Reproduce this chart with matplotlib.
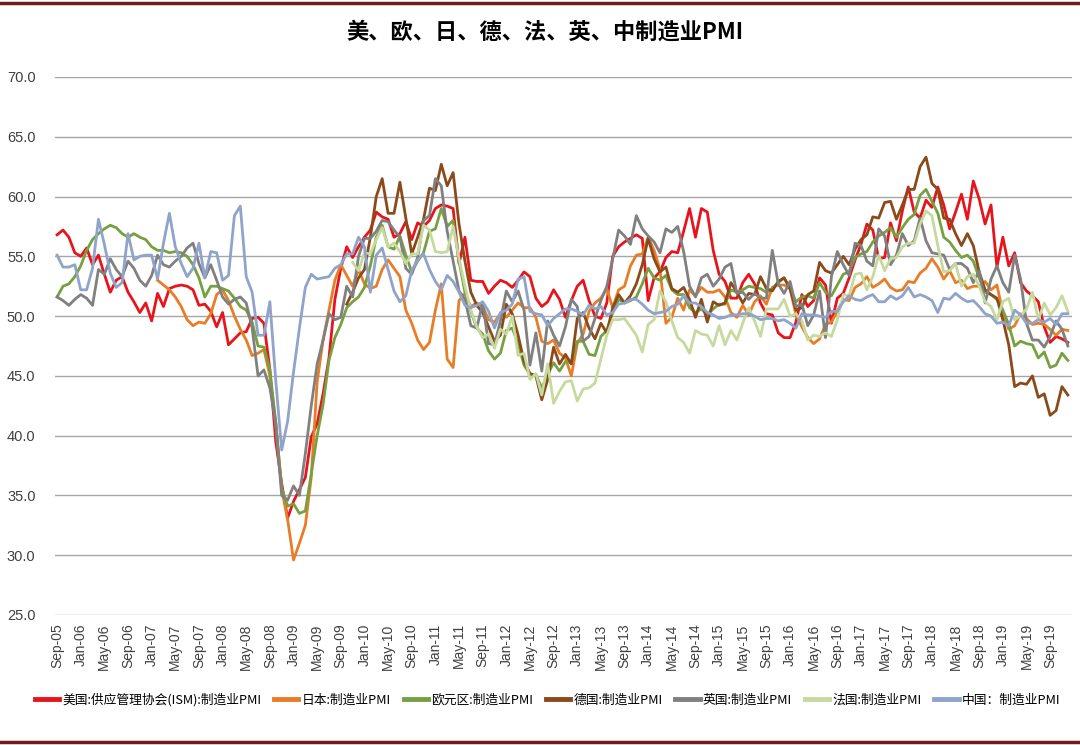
import numpy as np
import pandas as pd
import matplotlib
matplotlib.use("Agg")
import matplotlib.pyplot as plt
from matplotlib.lines import Line2D

plt.rcParams['font.family'] = ['Noto Sans CJK SC', 'DejaVu Sans']

N = np.nan
months = pd.date_range("2005-09-01", "2019-12-01", freq="MS")
tick_labels = [d.strftime("%b-%y") for d in months]

us_ism = [56.8, 57.2, 56.6, 55.3,
          55.0, 55.7, 54.3, 55.1, 53.5, 52.0, 53.0, 53.3, 52.0, 51.2, 50.3, 51.1,
          49.6, 51.9, 50.8, 52.3, 52.5, 52.6, 52.5, 52.2, 50.9, 51.0, 50.4, 49.1,
          50.3, 47.6, 48.1, 48.6, 48.7, 49.8, 49.9, 49.4, 45.5, 39.5, 36.0, 33.1,
          34.5, 35.5, 36.5, 39.9, 41.0, 43.5, 46.5, 51.4, 54.0, 55.8, 54.9, 55.8,
          56.6, 57.2, 58.7, 58.3, 58.1, 56.6, 56.9, 57.9, 56.4, 57.8, 57.5, 58.0,
          59.0, 59.3, 59.2, 59.0, 54.4, 56.6, 53.0, 52.9, 52.9, 51.9, 52.5, 53.0,
          52.8, 52.4, 53.0, 53.7, 53.3, 51.5, 50.8, 51.2, 52.2, 51.4, 49.9, 51.3,
          52.5, 53.0, 51.3, 50.0, 49.8, 51.1, 55.0, 55.8, 56.2, 56.5, 56.8, 56.5,
          51.3, 53.2, 53.7, 54.9, 55.4, 55.3, 57.1, 59.0, 56.6, 59.0, 58.7, 55.5,
          53.5, 52.9, 51.5, 51.5, 52.8, 53.5, 52.7, 51.1, 50.2, 50.1, 48.6, 48.2,
          48.2, 49.5, 51.8, 50.8, 51.3, 53.2, 52.6, 49.4, 51.5, 51.9, 53.2, 54.7,
          56.0, 57.7, 57.2, 54.8, 54.9, 57.8, 56.3, 58.8, 60.8, 58.7, 58.2, 59.7,
          59.1, 60.8, 59.3, 57.3, 58.7, 60.2, 58.1, 61.3, 59.8, 57.7, 59.3, 54.1,
          56.6, 54.2, 55.3, 52.8, 52.1, 51.7, 51.2, 49.1, 47.8, 48.3, 48.1, 47.8]

japan = [N, N, N, N,
         N, N, N, N, N, N, N, N, N, N, N, N,
         N, 53.0, 52.6, 52.2, 51.6, 50.8, 49.7, 49.2, 49.5, 49.4, 50.2, 51.8,
         52.2, 51.3, 50.0, 48.9, 48.0, 46.7, 46.9, 47.2, 45.0, 41.0, 35.5, 33.0,
         29.6, 31.0, 32.5, 36.5, 44.5, 48.0, 50.5, 53.0, 54.3, 53.4, 52.5, 53.9,
         52.7, 52.3, 52.5, 53.9, 54.7, 54.0, 53.3, 50.5, 49.4, 48.0, 47.2, 47.8,
         50.5, 52.7, 46.4, 45.7, 51.3, 51.9, 50.8, 51.1, 50.8, 49.7, 49.5, 50.2,
         49.9, 50.5, 51.1, 50.7, 50.7, 49.9, 47.9, 47.7, 48.0, 46.9, 46.5, 45.0,
         47.7, 48.5, 50.4, 51.1, 51.5, 52.3, 50.7, 52.2, 52.5, 54.2, 55.1, 55.2,
         56.6, 55.5, 53.9, 49.4, 49.9, 51.5, 50.5, 52.2, 51.7, 52.4, 52.0, 52.0,
         52.2, 51.6, 50.3, 49.9, 50.9, 50.1, 51.2, 51.7, 51.0, 52.4, 52.6, 52.6,
         52.3, 50.1, 49.1, 48.2, 47.7, 48.1, 49.3, 49.5, 50.4, 51.4, 51.3, 52.4,
         52.7, 53.3, 52.4, 52.7, 53.1, 52.4, 52.1, 52.2, 52.9, 52.8, 53.6, 54.0,
         54.8, 54.1, 53.1, 53.8, 52.8, 53.0, 52.3, 52.5, 52.5, 52.9, 52.2, 52.6,
         50.3, 48.9, 49.2, 50.2, 49.8, 49.3, 49.4, 49.3, 48.9, 48.4, 48.9, 48.8]

eurozone = [51.6, 52.5, 52.7, 53.3,
            54.2, 55.5, 56.4, 56.9, 57.3, 57.6, 57.4, 56.9, 56.6, 56.9, 56.6, 56.4,
            55.8, 55.5, 55.5, 55.3, 55.4, 55.3, 55.0, 54.3, 53.2, 51.6, 52.5, 52.5,
            52.3, 52.1, 51.5, 50.8, 50.5, 49.5, 47.5, 47.4, 45.5, 41.1, 35.6, 34.1,
            34.3, 33.5, 33.7, 36.8, 40.0, 42.6, 46.3, 48.2, 49.3, 50.7, 51.2, 51.6,
            52.4, 54.2, 56.6, 57.6, 55.8, 55.6, 56.7, 55.1, 53.7, 54.6, 55.3, 57.1,
            57.3, 59.0, 57.5, 58.0, 54.6, 52.0, 50.4, 49.0, 48.5, 47.1, 46.4, 46.9,
            48.8, 49.0, 47.7, 45.9, 45.1, 45.1, 44.0, 45.1, 46.1, 45.4, 46.2, 46.1,
            47.9, 47.9, 46.8, 46.7, 48.3, 48.8, 50.3, 51.4, 51.1, 51.3, 51.6, 52.7,
            54.0, 53.2, 53.0, 53.4, 52.2, 51.8, 51.8, 50.7, 50.3, 50.6, 50.1, 50.6,
            51.0, 51.0, 52.2, 52.0, 52.2, 52.5, 52.4, 52.3, 52.0, 52.3, 52.8, 53.2,
            52.3, 51.2, 51.6, 51.7, 51.5, 52.8, 52.0, 51.7, 52.6, 53.5, 53.7, 54.9,
            55.2, 55.4, 56.2, 56.7, 57.0, 57.4, 56.6, 57.4, 58.1, 58.5, 60.1, 60.6,
            59.6, 58.6, 56.6, 56.2, 55.5, 54.9, 55.1, 54.6, 53.2, 52.0, 51.8, 51.4,
            50.5, 49.3, 47.5, 47.9, 47.7, 47.6, 46.5, 47.0, 45.7, 45.9, 46.9, 46.3]

germany = [N, N, N, N,
           N, N, N, N, N, N, N, N, N, N, N, N,
           N, N, N, N, N, N, N, N, N, N, N, N,
           N, N, N, N, N, N, N, N, N, N, N, N,
           N, N, N, N, N, N, N, N, N, 51.0, 52.0, 53.2,
           53.9, 56.6, 60.0, 61.5, 58.6, 58.6, 61.2, 58.2, 55.2, 56.6, 58.1, 60.7,
           60.5, 62.7, 60.9, 62.0, 57.7, 54.6, 52.0, 50.9, 50.3, 49.1, 47.9, 48.4,
           51.0, 50.2, 48.4, 46.2, 45.2, 45.0, 43.0, 44.7, 47.4, 46.0, 46.8, 46.0,
           49.8, 50.3, 49.0, 48.1, 49.4, 48.6, 50.7, 51.8, 51.1, 51.7, 52.7, 54.3,
           56.5, 54.8, 53.7, 54.1, 52.3, 52.0, 52.4, 51.4, 49.9, 51.4, 49.5, 51.2,
           50.9, 51.1, 52.8, 52.0, 51.1, 51.9, 51.8, 53.3, 52.3, 52.1, 52.9, 53.2,
           52.3, 50.5, 50.7, 51.8, 52.1, 54.5, 53.8, 53.6, 54.3, 55.0, 54.3, 55.6,
           56.4, 56.8, 58.3, 58.2, 59.5, 59.6, 58.1, 59.3, 60.6, 60.6, 62.5, 63.3,
           61.1, 60.6, 58.2, 58.1, 56.9, 55.9, 56.9, 55.9, 53.7, 52.2, 51.8, 51.5,
           49.7, 47.6, 44.1, 44.4, 44.3, 45.0, 43.2, 43.5, 41.7, 42.1, 44.1, 43.4]

uk = [51.6, 51.3, 50.9, 51.4,
      51.8, 51.5, 50.9, 53.9, 53.5, 54.8, 53.9, 53.3, 54.6, 54.0, 53.0, 52.5,
      53.4, 55.1, 54.3, 54.1, 54.6, 55.0, 55.7, 56.1, 54.4, 53.2, 54.3, 53.0,
      51.6, 51.0, 51.4, 51.6, 51.1, 49.0, 45.0, 45.5, 44.0, 41.0, 35.0, 34.6,
      35.8, 35.0, 38.5, 42.5, 46.0, 48.0, 50.2, 49.7, 49.9, 52.5, 51.6, 55.0,
      56.5, 56.5, 57.1, 58.0, 57.9, 57.2, 56.6, 54.0, 53.5, 54.9, 58.0, 58.4,
      61.5, 60.9, 57.1, 54.6, 52.1, 51.4, 49.2, 49.0, 51.1, 47.7, 47.6, 49.6,
      52.1, 51.2, 52.1, 50.5, 45.9, 48.6, 45.4, 49.6, 48.4, 47.5, 49.1, 51.4,
      50.8, 47.9, 48.3, 49.8, 51.3, 52.5, 54.8, 57.2, 56.7, 56.0, 58.4, 57.3,
      56.7, 56.2, 55.3, 57.3, 57.0, 57.5, 55.4, 52.5, 51.6, 53.2, 53.5, 52.5,
      53.1, 54.1, 54.4, 51.9, 52.0, 51.4, 51.9, 51.5, 51.5, 55.5, 52.7, 51.9,
      52.9, 50.8, 51.0, 49.2, 50.1, 52.1, 48.2, 53.3, 55.4, 54.3, 53.4, 56.1,
      55.9, 54.6, 54.2, 57.3, 56.7, 54.3, 55.1, 56.9, 55.9, 56.3, 58.2, 56.3,
      55.3, 55.2, 55.1, 53.9, 54.4, 54.4, 54.0, 52.8, 53.8, 51.1, 53.1, 54.2,
      52.8, 52.0, 55.1, 53.1, 49.4, 48.0, 48.0, 47.4, 48.3, 49.6, 48.9, 47.5]

france = [N, N, N, N,
          N, N, N, N, N, N, N, N, N, N, N, N,
          N, N, N, N, N, N, N, N, N, N, N, N,
          N, N, N, N, N, N, N, N, N, N, N, N,
          N, N, N, N, N, N, N, N, N, N, 54.5, 53.8,
          55.3, 55.2, 56.4, 57.4, 55.8, 56.1, 55.4, 54.4, 55.2, 55.2, 57.6, 57.2,
          55.4, 55.3, 55.4, 57.5, 54.8, 52.5, 50.5, 49.1, 48.2, 48.5, 47.3, 48.9,
          48.5, 50.0, 46.7, 46.9, 44.7, 45.2, 43.4, 46.0, 42.7, 43.7, 44.5, 44.6,
          42.9, 43.9, 44.0, 44.4, 46.4, 48.4, 49.7, 49.7, 49.8, 49.1, 48.4, 47.0,
          49.3, 49.7, 52.1, 51.2, 49.6, 48.2, 47.8, 46.9, 48.8, 48.5, 48.4, 47.5,
          49.2, 47.6, 48.8, 48.0, 49.4, 50.7, 49.6, 48.3, 50.6, 50.6, 50.6, 51.4,
          50.0, 50.2, 49.6, 48.0, 48.4, 48.3, 48.6, 48.3, 49.7, 51.8, 51.7, 53.5,
          53.6, 52.2, 53.3, 55.1, 53.8, 54.8, 54.9, 55.8, 56.1, 56.1, 57.7, 58.8,
          58.4, 55.9, 53.7, 53.8, 54.4, 52.5, 53.3, 53.5, 52.5, 51.2, 50.8, 49.7,
          51.2, 51.5, 49.7, 50.0, 50.6, 52.0, 49.7, 51.1, 50.1, 50.7, 51.7, 50.4]

china = [55.1, 54.1, 54.1, 54.3,
         52.2, 52.2, 54.0, 58.1, 56.0, 53.6, 52.4, 52.8, 56.9, 54.7, 55.0, 55.1,
         55.1, 53.1, 56.1, 58.6, 55.8, 54.4, 53.3, 54.0, 56.1, 53.2, 55.4, 55.3,
         53.0, 53.4, 58.4, 59.2, 53.3, 52.0, 48.4, 48.4, 51.2, 44.6, 38.8, 41.2,
         45.3, 49.0, 52.4, 53.5, 53.1, 53.2, 53.3, 54.0, 54.3, 55.2, 55.2, 56.6,
         55.8, 52.0, 55.1, 55.7, 53.9, 52.1, 51.2, 51.7, 53.8, 54.7, 55.2, 53.9,
         52.9, 52.2, 53.4, 52.9, 52.0, 50.9, 50.7, 50.9, 51.2, 50.4, 49.0, 50.3,
         50.5, 51.0, 53.1, 53.3, 50.4, 50.2, 50.1, 49.2, 49.8, 50.2, 50.6, 50.6,
         50.4, 50.1, 50.9, 50.6, 50.8, 50.1, 50.3, 51.0, 51.1, 51.4, 51.4, 51.0,
         50.5, 50.2, 50.3, 50.4, 50.8, 51.0, 51.7, 51.1, 51.1, 50.8, 50.3, 50.1,
         49.8, 49.9, 50.1, 50.1, 50.2, 50.2, 50.0, 49.7, 49.8, 49.8, 49.6, 49.7,
         49.4, 49.0, 50.2, 50.1, 50.1, 50.0, 49.9, 50.4, 50.4, 51.2, 51.7, 51.4,
         51.3, 51.6, 51.8, 51.2, 51.2, 51.7, 51.4, 51.7, 52.4, 51.6, 51.8, 51.6,
         51.3, 50.3, 51.5, 51.4, 51.9, 51.5, 51.2, 51.3, 50.8, 50.2, 50.0, 49.4,
         49.5, 49.2, 50.5, 50.1, 49.4, 49.4, 49.7, 49.5, 49.8, 49.3, 50.2, 50.2]

series_names = ["美国:供应管理协会(ISM):制造业PMI", "日本:制造业PMI", "欧元区:制造业PMI",
                "德国:制造业PMI", "英国:制造业PMI", "法国:制造业PMI", "中国：制造业PMI"]
series_data = [us_ism, japan, eurozone, germany, uk, france, china]
colors = ["#E8141B", "#E87D27", "#77A040", "#8B4A1A", "#808080", "#C6DA9E", "#8FA3CB"]
title = "美、欧、日、德、法、英、中制造业PMI"

fig = plt.figure(figsize=(10.8, 7.45), dpi=100)
ax = fig.add_axes([55/1080, 1-615/745, (1072-55)/1080, (615-77)/745])

x = np.arange(len(months))
handles = []
for name, data, c in zip(series_names, series_data, colors):
    y = np.array(data, dtype=float)
    h, = ax.plot(x, y, color=c, lw=2.0, label=name, solid_joinstyle='round')
    handles.append(h)

ax.set_ylim(25, 70)
ax.set_yticks(np.arange(25, 70.1, 5))
ax.set_yticklabels([f"{v:.1f}" for v in np.arange(25, 70.1, 5)],
                   fontsize=10.5, color="#404040", family=["Liberation Sans", "DejaVu Sans"])
ax.set_xlim(-0.35, 171.7)
ax.set_xticks(x[::4])
ax.set_xticklabels(tick_labels[::4], rotation=90, fontsize=10, color="#404040",
                   family=["Liberation Sans", "DejaVu Sans"])
ax.tick_params(axis='y', length=0, pad=14)
ax.tick_params(axis='x', length=0, pad=6)
ax.grid(axis='y', color="#A6A6A6", lw=1.0)
ax.set_axisbelow(True)
for s in ax.spines.values():
    s.set_visible(False)

fig.text(0.505, 1-32/745, title, ha='center', va='center', fontsize=16, fontweight='bold')

fig.add_artist(Line2D([0, 1], [1-2.5/745, 1-2.5/745], transform=fig.transFigure,
                      color="#6E1C1C", lw=2.5))
fig.add_artist(Line2D([0, 1], [1-741.5/745, 1-741.5/745], transform=fig.transFigure,
                      color="#6E1C1C", lw=2.5))

leg = fig.legend(handles=handles, loc='center', bbox_to_anchor=(0.507, 1-700/745),
                 ncol=7, frameon=False, fontsize=9.2, handlelength=1.9,
                 handletextpad=0.25, columnspacing=1.0)
for lh in leg.get_lines():
    lh.set_linewidth(3.5)

fig.savefig("out.png", dpi=100)
